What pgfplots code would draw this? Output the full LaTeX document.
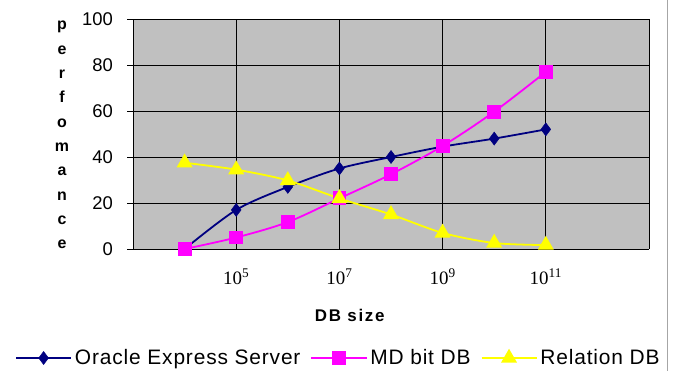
\documentclass[border=0pt]{standalone}
\usepackage{fontspec}
\setmainfont{Liberation Sans}
\newfontfamily\timesf{Liberation Serif}
\usepackage{pgfplots}
\pgfplotsset{compat=1.18}
\definecolor{plotgray}{HTML}{C0C0C0}
\definecolor{navyc}{HTML}{000080}
\definecolor{magc}{HTML}{FF00FF}
\definecolor{yelc}{HTML}{FFFF00}
\begin{document}
\begin{tikzpicture}
\path[use as bounding box] (0,0) rectangle (674bp,371bp);
\draw[gray!70, line width=1bp] (667bp,0) -- (667bp,371bp);
\begin{axis}[
  at={(133bp,122bp)}, anchor=south west,
  width=516bp, height=230bp, scale only axis,
  xmode=log, xmin=1e3, xmax=1e13, ymin=0, ymax=100,
  xtick={1e3,1e5,1e7,1e9,1e11},
  xticklabels={,{\timesf 10\textsuperscript{5}},{\timesf 10\textsuperscript{7}},{\timesf 10\textsuperscript{9}},{\timesf 10\textsuperscript{11}}},
  extra x ticks={1e13}, extra x tick labels={},
  extra x tick style={grid style={gray!60!black, line width=0.8bp}},
  minor xtick={},
  ytick={0,20,40,60,80,100},
  yticklabels={0,20,40,60,80,100},
  ytick pos=left,
  axis background/.style={fill=plotgray},
  axis line style={draw=none},
  grid=major, major grid style={black, line width=0.8bp},
  tick align=outside, major tick length=6bp,
  xtick style={draw=none}, ytick style={black, line width=0.8bp},
  yticklabel style={font=\fontsize{18.5}{18.5}\selectfont, anchor=east, inner sep=0pt, xshift=-14bp},
  xticklabel style={font=\fontsize{19}{19}\selectfont, anchor=north, inner sep=0pt, yshift=-14bp},
  xlabel={DB size},
  xlabel style={at={(axis description cs:0.42,-0.29)}, anchor=center, font=\fontsize{17}{17}\selectfont\bfseries\addfontfeature{LetterSpace=10}},
  ylabel={p\\e\\r\\f\\o\\m\\a\\n\\c\\e},
  ylabel style={at={(axis description cs:-0.1376,0.495)}, anchor=center, rotate=-90, align=center, font=\fontsize{16}{24.4}\selectfont\bfseries},
  legend columns=-1,
  legend style={at={(axis description cs:-0.2287,-0.474)}, anchor=west, draw=none, fill=none, inner sep=0pt,
    font=\fontsize{21}{21}\selectfont\addfontfeature{LetterSpace=4},
    nodes={inner sep=3bp},
    /tikz/every even column/.append style={column sep=7bp}},
  legend image code/.code={\draw[mark repeat=2,mark phase=2,#1] plot coordinates {(0bp,0bp) (27.5bp,0bp) (55bp,0bp)};},
]
\addplot[navyc, line width=1.8bp, smooth, tension=0.5, mark=diamond*, mark size=6.5bp, mark options={solid, fill=navyc, draw=navyc, line width=0.5bp}]
  coordinates {(1e4,0) (1e5,17) (1e6,27) (1e7,35) (1e8,40) (1e9,44.5) (1e10,48) (1e11,52)};
\addlegendentry{Oracle Express Server}
\addplot[magc, line width=1.8bp, smooth, tension=0.5, mark=square*, mark size=6bp, mark options={solid, fill=magc, draw=magc}]
  coordinates {(1e4,0) (1e5,5) (1e6,11.7) (1e7,22) (1e8,32.5) (1e9,44.8) (1e10,59.7) (1e11,77)};
\addlegendentry{MD bit DB}
\addplot[yelc, line width=1.8bp, smooth, tension=0.5, mark=triangle*, mark size=7.5bp, mark options={solid, fill=yelc, draw=yelc}]
  coordinates {(1e4,37.5) (1e5,34.5) (1e6,29.8) (1e7,22) (1e8,15) (1e9,7) (1e10,2.6) (1e11,1.7)};
\addlegendentry{Relation DB}
\end{axis}
\end{tikzpicture}
\end{document}
